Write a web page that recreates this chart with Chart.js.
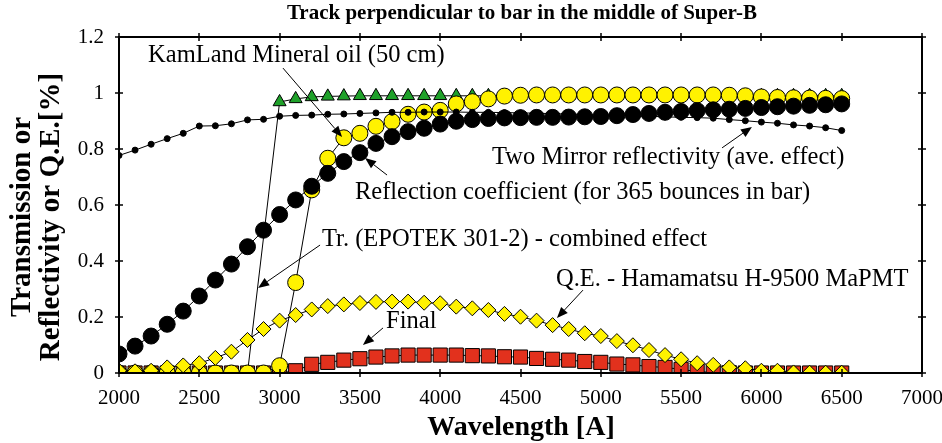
<!DOCTYPE html>
<html>
<head>
<meta charset="utf-8">
<script src="https://cdn.jsdelivr.net/npm/chart.js@4.4.1/dist/chart.umd.min.js"></script>
<style>
  html, body { margin: 0; padding: 0; background: #fff; }
  #chart { display: block; }
</style>
</head>
<body>
<canvas id="chart" width="942" height="443"></canvas>
<script>
// Wavelength grid [A], one point every 100 A
const wavelengths = [
    2000, 2100, 2200, 2300, 2400, 2500, 2600, 2700, 2800, 2900,
    3000, 3100, 3200, 3300, 3400, 3500, 3600, 3700, 3800, 3900,
    4000, 4100, 4200, 4300, 4400, 4500, 4600, 4700, 4800, 4900,
    5000, 5100, 5200, 5300, 5400, 5500, 5600, 5700, 5800, 5900,
    6000, 6100, 6200, 6300, 6400, 6500
];

// Two mirror reflectivity (average effect)
const mirrorRefl = [
    0.777, 0.796, 0.817, 0.837, 0.856, 0.882, 0.883, 0.890, 0.904, 0.906,
    0.917, 0.920, 0.921, 0.924, 0.925, 0.927, 0.929, 0.931, 0.931, 0.932,
    0.932, 0.932, 0.931, 0.931, 0.930, 0.929, 0.928, 0.926, 0.925, 0.923,
    0.921, 0.920, 0.918, 0.917, 0.915, 0.913, 0.912, 0.910, 0.905, 0.901,
    0.896, 0.892, 0.886, 0.882, 0.876, 0.866
];

// Reflection coefficient, 365 bounces in the bar
const reflCoef = [
    0.068, 0.096, 0.132, 0.174, 0.221, 0.275, 0.332, 0.389, 0.451, 0.510,
    0.566, 0.618, 0.667, 0.713, 0.755, 0.787, 0.820, 0.844, 0.862, 0.874,
    0.889, 0.899, 0.905, 0.909, 0.911, 0.912, 0.913, 0.913, 0.914, 0.915,
    0.916, 0.919, 0.923, 0.927, 0.931, 0.934, 0.937, 0.940, 0.942, 0.945,
    0.948, 0.951, 0.953, 0.956, 0.958, 0.961
];

// KamLand mineral oil, 50 cm
const kamland = [
    0, 0, 0, 0, 0, 0, 0, 0, 0, 0,
    0.026, 0.323, 0.654, 0.767, 0.840, 0.856, 0.881, 0.898, 0.924, 0.932,
    0.938, 0.961, 0.969, 0.979, 0.989, 0.992, 0.993, 0.993, 0.993, 0.993,
    0.993, 0.993, 0.993, 0.993, 0.993, 0.993, 0.993, 0.993, 0.992, 0.990,
    0.986, 0.984, 0.983, 0.982, 0.981, 0.980
];

// EPOTEK 301-2 transmission (measured from 3000 A, cut-off at 2800 A)
const epotek = [
    null, null, null, null, null, null, null, null, 0, null,
    0.968, 0.979, 0.986, 0.988, 0.989, 0.990, 0.990, 0.990, 0.990, 0.990,
    0.990, 0.990, 0.990, 0.990, 0.990, 0.990, 0.990, 0.990, 0.990, 0.990,
    0.990, 0.990, 0.990, 0.990, 0.990, 0.990, 0.990, 0.990, 0.990, 0.990,
    0.990, 0.990, 0.990, 0.990, 0.990, 0.990
];

// Q.E. of Hamamatsu H-9500 MaPMT
const qe = [
    0.008, 0.006, 0.008, 0.020, 0.027, 0.035, 0.054, 0.076, 0.118, 0.157,
    0.187, 0.207, 0.227, 0.239, 0.245, 0.250, 0.254, 0.255, 0.255, 0.251,
    0.249, 0.237, 0.231, 0.225, 0.211, 0.201, 0.187, 0.171, 0.157, 0.142,
    0.132, 0.114, 0.099, 0.082, 0.064, 0.049, 0.035, 0.029, 0.020, 0.017,
    0.008, 0.008, 0.002, 0.001, 0.001, 0.001
];

// Final combined efficiency
const finalEff = [
    0, 0, 0, 0, 0, 0, 0, 0, 0, 0,
    0.000, 0.008, 0.031, 0.038, 0.046, 0.051, 0.057, 0.061, 0.064, 0.064,
    0.064, 0.064, 0.062, 0.061, 0.058, 0.057, 0.052, 0.049, 0.046, 0.041,
    0.038, 0.032, 0.029, 0.023, 0.020, 0.013, 0.005, 0.002, 0.001, 0,
    0, 0, 0, 0, 0, 0
];

const xTicks = { min: 2000, max: 7000, step: 500 };
const yTicks = { min: 0, max: 1.2, step: 0.2 };

// Text labels with their arrows, in data units (wavelength, value)
const notes = [
    { text: 'KamLand Mineral oil (50 cm)', at: [2181, 1.132], from: [3021, 1.089], to: [3389, 0.843] },
    { text: 'Two Mirror reflectivity (ave. effect)', at: [4323, 0.768], from: [5755, 0.804], to: [5941, 0.879] },
    { text: 'Reflection coefficient (for 365 bounces in bar)', at: [3469, 0.646], from: [3669, 0.707], to: [3532, 0.768] },
    { text: 'Tr. (EPOTEK 301-2) - combined effect', at: [3264, 0.475], from: [3252, 0.457], to: [2866, 0.304] },
    { text: 'Q.E. - Hamamatsu H-9500 MaPMT', at: [4721, 0.332], from: [4889, 0.296], to: [4727, 0.196] },
    { text: 'Final', at: [3663, 0.182], from: [3644, 0.161], to: [3519, 0.100] }
];

const FONT = "'Liberation Serif', 'Times New Roman', serif";
const YELLOW = '#FFF200';
const GREEN = '#1FA12A';
const RED = '#E2311D';

const toPoints = vals => wavelengths.map((w, i) => ({ x: w, y: vals[i] }));

const series = (data, style) => ({
    data: toPoints(data),
    borderColor: '#000',
    borderWidth: 1,
    pointBorderColor: '#000',
    pointBorderWidth: 1,
    tension: 0,
    fill: false,
    ...style
});

// Frame with crossing ticks, titles and the arrow labels
const decorations = {
    id: 'decorations',
    afterDraw(chart) {
        const { ctx, chartArea: a, scales: { x, y } } = chart;
        const line = (x1, y1, x2, y2) => {
            ctx.beginPath();
            ctx.moveTo(x1, y1);
            ctx.lineTo(x2, y2);
            ctx.stroke();
        };
        ctx.save();
        ctx.strokeStyle = '#000';
        ctx.fillStyle = '#000';

        ctx.lineWidth = 2;
        ctx.strokeRect(a.left, a.top, a.right - a.left, a.bottom - a.top);

        ctx.lineWidth = 1.5;
        x.ticks.forEach(t => {
            const px = Math.round(x.getPixelForValue(t.value));
            line(px, a.bottom - 4, px, a.bottom + 4);
            line(px, a.top - 4, px, a.top + 4);
        });
        y.ticks.forEach(t => {
            const py = Math.round(y.getPixelForValue(t.value));
            line(a.left - 4, py, a.left + 4, py);
            line(a.right - 4, py, a.right + 4, py);
        });

        // notes with arrows
        ctx.lineWidth = 1;
        ctx.font = '24.5px ' + FONT;
        ctx.textAlign = 'left';
        ctx.textBaseline = 'middle';
        notes.forEach(n => {
            ctx.fillText(n.text, x.getPixelForValue(n.at[0]), y.getPixelForValue(n.at[1]));
            const x1 = x.getPixelForValue(n.from[0]), y1 = y.getPixelForValue(n.from[1]);
            const x2 = x.getPixelForValue(n.to[0]), y2 = y.getPixelForValue(n.to[1]);
            const ang = Math.atan2(y2 - y1, x2 - x1);
            const len = 11, half = 4.5;
            const bx = x2 - len * Math.cos(ang), by = y2 - len * Math.sin(ang);
            line(x1, y1, bx, by);
            ctx.beginPath();
            ctx.moveTo(x2, y2);
            ctx.lineTo(bx + half * Math.sin(ang), by - half * Math.cos(ang));
            ctx.lineTo(bx - half * Math.sin(ang), by + half * Math.cos(ang));
            ctx.closePath();
            ctx.fill();
        });

        // chart title
        ctx.textAlign = 'center';
        ctx.font = 'bold 21px ' + FONT;
        ctx.fillText('Track perpendicular to bar in the middle of Super-B', 522, 14);

        // axis titles
        ctx.font = 'bold 28px ' + FONT;
        ctx.fillText('Wavelength [A]', 521, 428);

        ctx.translate(0, 217);
        ctx.rotate(-Math.PI / 2);
        ctx.font = 'bold 29px ' + FONT;
        ctx.fillText('Transmission or', 0, 23);
        ctx.fillText('Reflectivity or Q.E.[%]', 0, 52);
        ctx.restore();
    }
};

new Chart(document.getElementById('chart'), {
    type: 'line',
    data: {
        datasets: [
            series(reflCoef, { pointStyle: 'circle', pointRadius: 8, pointBackgroundColor: '#000' }),
            series(mirrorRefl, { pointStyle: 'circle', pointRadius: 3, pointBackgroundColor: '#000' }),
            series(qe, { pointStyle: 'rectRot', pointRadius: 7.5, pointBackgroundColor: YELLOW }),
            series(kamland, { pointStyle: 'circle', pointRadius: 8, pointBackgroundColor: YELLOW }),
            series(finalEff, { pointStyle: 'rect', pointRadius: 10, pointBackgroundColor: RED }),
            series(epotek, { pointStyle: 'triangle', pointRadius: 7.5, pointBackgroundColor: GREEN, spanGaps: true })
        ].map((d, i) => ({ ...d, order: i }))
    },
    options: {
        responsive: false,
        animation: false,
        events: [],
        layout: { padding: { top: 37, right: 20, left: 0, bottom: 0 } },
        plugins: {
            legend: { display: false },
            title: { display: false },
            tooltip: { enabled: false }
        },
        scales: {
            x: {
                type: 'linear',
                min: xTicks.min,
                max: xTicks.max,
                grid: { display: false, drawTicks: false },
                border: { display: false },
                ticks: {
                    stepSize: xTicks.step,
                    padding: 13,
                    color: '#000',
                    maxRotation: 0,
                    font: { family: FONT, size: 21 },
                    callback: v => String(v)
                },
                afterFit: s => {
                    s.height = 70;
                    s.paddingLeft = 0;
                    s.paddingRight = 0;
                }
            },
            y: {
                min: yTicks.min,
                max: yTicks.max,
                grid: { display: false, drawTicks: false },
                border: { display: false },
                ticks: {
                    stepSize: yTicks.step,
                    padding: 15,
                    color: '#000',
                    font: { family: FONT, size: 21 },
                    callback: v => String(Math.round(v * 10) / 10)
                },
                afterFit: s => { s.width = 119; }
            }
        }
    },
    plugins: [decorations]
});
</script>
</body>
</html>
